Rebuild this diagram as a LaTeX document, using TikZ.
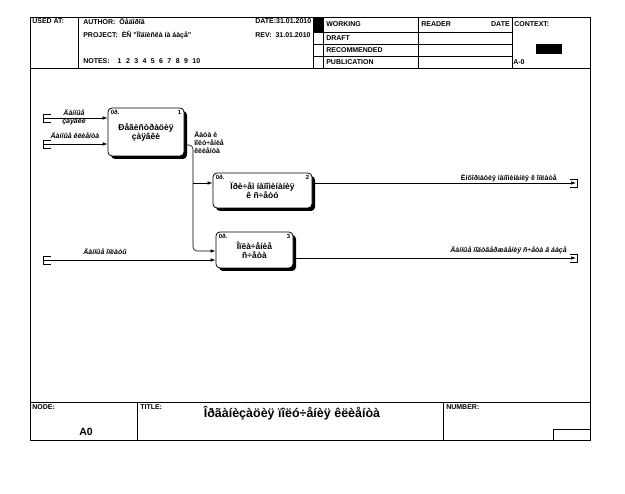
\documentclass[tikz,border=0pt]{standalone}
\usepackage{fontspec}
\setmainfont{Liberation Sans}
\usetikzlibrary{positioning,arrows.meta,shadows}

\begin{document}
\begin{tikzpicture}[
		x=1pt, y=-1pt,
		line width=0.6pt,
		hdr/.style = {inner sep=0pt, anchor=west, font=\fontsize{7}{8}\selectfont\bfseries},
		lbl/.style = {inner sep=0pt, align=center, font=\fontsize{7}{8}\selectfont\bfseries},
		lbli/.style = {lbl, font=\fontsize{7}{8}\selectfont\bfseries\itshape},
		corner/.style = {inner sep=0pt, font=\fontsize{6}{6}\selectfont\bfseries},
		func/.style = {
			draw, rounded corners=4pt, fill=white,
			line width=0.8pt,
			drop shadow={shadow xshift=3pt, shadow yshift=-3pt, fill=black, opacity=1},
			align=center, inner sep=0pt,
			font=\fontsize{8.5}{9}\selectfont\bfseries
			},
		flow/.style = {-{Latex[length=5pt,width=3.5pt]}}
		]
		\useasboundingbox (0,0) rectangle (625,494);
		
		% frame
		\draw[line width=0.8pt] (30,17) rectangle (590,440);
		\draw (30,68) -- (590,68);
		\draw (30,402) -- (590,402);
		\foreach \x in {78,313,323,418,512}
			\draw (\x,17) -- (\x,68);
		\foreach \y in {32,44,56}
			\draw (313,\y) -- (512,\y);
		\fill (313,17) rectangle (323,32);
		\fill (536,44) rectangle (562,54);
		\draw (137,402) -- (137,440);
		\draw (443,402) -- (443,440);
		\draw (553,429) rectangle (590,440);
		
		% header
		\node[hdr] (usedat) at (32,21) {USED AT:};
		\begin{scope}
			\clip (78,17) rectangle (313,68);
			\node[hdr] (author) at (83,21) {AUTHOR:\ \ Ôåäîðîâ};
			\node[hdr] (project) at (83,35) {PROJECT:\ \ ÈÑ "Ïîäïèñêà íà áàçå"};
			\node[hdr] (notes) at (83,61) {NOTES:\hspace{8pt}1\hspace{4.4pt}2\hspace{4.4pt}3\hspace{4.4pt}4\hspace{4.4pt}5\hspace{4.4pt}6\hspace{4.4pt}7\hspace{4.4pt}8\hspace{4.4pt}9\hspace{4.4pt}10};
			\node[hdr] (date) at (255,21) {DATE:31.01.2010};
			\node[hdr] (rev) at (255,35) {REV:\ \ 31.01.2010};
		\end{scope}
		\node[hdr] (working) at (326,24.5) {WORKING};
		\node[hdr] (draft) at (326,38) {DRAFT};
		\node[hdr] (recom) at (326,50) {RECOMMENDED};
		\node[hdr] (publ) at (326,62.5) {PUBLICATION};
		\node[hdr] (reader) at (421,24.5) {READER};
		\node[hdr, anchor=east] (rdate) at (510,24.5) {DATE};
		\node[hdr] (context) at (514,24.5) {CONTEXT:};
		\node[hdr] (ctxnode) at (513,62.5) {A-0};
		
		% footer
		\node[hdr] (nodelbl) at (32,407) {NODE:};
		\node[hdr] (titlelbl) at (140,407) {TITLE:};
		\node[hdr] (numberlbl) at (446,407) {NUMBER:};
		\node[inner sep=0pt, font=\fontsize{10.5}{12}\selectfont\bfseries] (nodeval) at (86,432) {A0};
		\node[inner sep=0pt, font=\fontsize{12.5}{14}\selectfont\bfseries] (title) at (292,413) {Îðãàíèçàöèÿ ïîëó÷åíèÿ êëèåíòà};
		
		% functions
		\node[func, minimum width=76pt, minimum height=48pt] (b1) at (146,132) {Ðåãèñòðàöèÿ\\çàÿâêè};
		\node[func, minimum width=99pt, minimum height=35pt] (b2) at (262.5,190.5) {Ïðè÷åì íàïîìèíàíèÿ\\ê ñ÷åòó};
		\node[func, minimum width=77pt, minimum height=36pt, text depth=-10pt] (b3) at (254.5,250) {Îïëà÷åíèå\\ñ÷åòà};
		\foreach \b/\n in {b1/1,b2/2,b3/3} {
			\node[corner, anchor=north west] (\b c) at ([xshift=3pt,yshift=-2.5pt]\b.north west) {0ð.};
			\node[corner, anchor=north east] (\b n) at ([xshift=-3pt,yshift=-2.5pt]\b.north east) {\n};
		}
		
		% arrow ends
		\coordinate (in1) at (44,118);
		\coordinate (in2) at (44,144);
		\coordinate (in3) at (44,260);
		\coordinate (fork) at (193,145);
		\coordinate (fork2) at (193,183);
		\coordinate (fork3) at (193,251);
		\coordinate (out2) at (576,183);
		\coordinate (out3) at (576,258);
		
		% tunnels
		\foreach \t in {in1,in2,in3}
			\draw (\t) ++(7,-4) -- ++(-8,0) -- ++(0,8) -- ++(8,0);
		\foreach \t in {out2,out3}
			\draw (\t) ++(-6,-4) -- ++(7,0) -- ++(0,8) -- ++(-7,0);
		
		% arrows
		\draw[flow] (in1) -- (in1 -| b1.west);
		\draw[flow] (in2) -- (in2 -| b1.west);
		\draw[flow, rounded corners=4pt] (fork -| b1.east) -- (fork) -- (fork3) -- (fork3 -| b3.west);
		\draw[flow] (fork2) -- (fork2 -| b2.west);
		\draw[flow] (in3) -- (in3 -| b3.west);
		\draw[flow] (out2 -| b2.east) -- (out2);
		\draw[flow] (out3 -| b3.east) -- (out3);
		
		% labels
		\node[lbli] (l1) at (74,117.5) {Äàííûå\\çàÿâêè};
		\node[lbli] (l2) at (75,135.5) {Äàííûå êëèåíòà};
		\node[lbl, anchor=north west, align=left] (l3) at (194,131) {Äàòà è\\ïîëó÷åíèå\\êëèåíòà};
		\node[lbli] (l4) at (105,252) {Äàííûå îïëàòû};
		\node[lbl, anchor=east] (l5) at (557,178.5) {Èíôîðìàöèÿ íàïîìèíàíèÿ ê îïëàòå};
		\node[lbli, anchor=east] (l6) at (567,250.5) {Äàííûå ïîäòâåðæäåíèÿ ñ÷åòà â áàçå};
		
	\end{tikzpicture}
\end{document}
